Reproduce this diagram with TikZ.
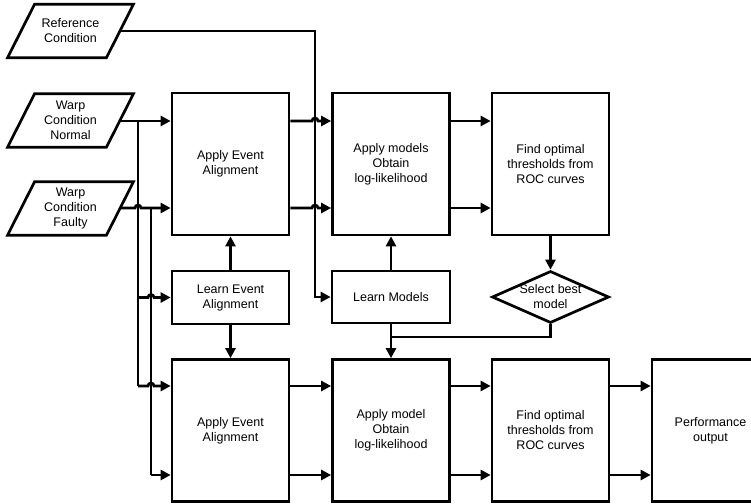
\documentclass[tikz,border=0pt]{standalone}
\usepackage{fontspec}
\setmainfont{Liberation Sans}
\usetikzlibrary{arrows.meta,shapes.geometric}
\tikzset{
  base/.style={line width=2.7pt, line join=miter},
  box/.style={base, draw, rectangle, align=center, inner sep=0pt, font=\fontsize{12.5}{15}\selectfont},
  tall/.style={box, minimum width=117pt, minimum height=142pt},
  short/.style={box, minimum width=117pt, minimum height=53pt},
  para/.style={align=center, inner sep=0pt, minimum width=98.5pt, minimum height=53pt, font=\fontsize{12.5}{15}\selectfont},
  lbl/.style={align=center, inner sep=0pt, font=\fontsize{12.5}{15}\selectfont},
  conn/.style={base, -{Triangle[length=10pt,width=10pt]}},
  line/.style={base}
}
\newcommand{\parashape}[1]{%
  \draw[base] ([xshift=-13.5pt]#1.south west) -- ([xshift=13.5pt]#1.north west)
    -- ([xshift=13.5pt]#1.north east) -- ([xshift=-13.5pt]#1.south east) -- cycle;}
\begin{document}
\begin{tikzpicture}[x=1pt,y=-1pt]
\useasboundingbox (0,0) rectangle (751,503);
% inputs
\node[para] (ref) at (70.5,31) {Reference\\Condition};
\node[para] (nor) at (70.5,120.5) {Warp\\Condition\\Normal};
\node[para] (fau) at (70.5,208.5) {Warp\\Condition\\Faulty};
\parashape{ref}\parashape{nor}\parashape{fau}
% boxes
\node[tall] (aea1) at (230.5,164) {Apply Event\\Alignment};
\node[tall] (am1) at (391,164) {Apply models\\Obtain\\log-likelihood};
\node[tall] (fo1) at (550.5,164) {Find optimal\\thresholds from\\ROC curves};
\node[short] (lea) at (230.5,297.5) {Learn Event\\Alignment};
\node[short, minimum width=118pt, minimum height=52pt] (lm) at (391,297) {Learn Models};
\node[base, draw, diamond, minimum width=117pt, minimum height=52pt, inner sep=0pt] (sel) at (550.5,297) {};
\node[lbl] (seltext) at (550.5,297) {Select best\\model};
\node[tall] (aea2) at (230.5,430.5) {Apply Event\\Alignment};
\node[tall] (am2) at (391,430.5) {Apply model\\Obtain\\log-likelihood};
\node[tall] (fo2) at (550.5,430.5) {Find optimal\\thresholds from\\ROC curves};
\node[tall] (perf) at (710.5,430.5) {Performance\\output};
% coordinates
\coordinate (jn) at (138,121);
\coordinate (jf) at (151,208);
\coordinate (jr) at (315,31);
% reference condition to learn models
\draw[conn] (ref.east |- jr) -- (jr) -- (jr |- lm.west) -- (lm.west);
% normal
\draw[conn] (nor.east |- jn) -- (aea1.west |- jn);
\draw[line] (jn) -- (138,386);
\draw[conn] (138,297.5) -- (148,297.5) arc[start angle=180,end angle=0,radius=3pt] -- (lea.west);
\draw[conn] (138,386) -- (148,386) arc[start angle=180,end angle=0,radius=3pt] -- (aea2.west |- 0,386);
% faulty
\draw[conn] (fau.east |- jf) -- (135,208) arc[start angle=180,end angle=0,radius=3pt] -- (aea1.west |- jf);
\draw[line] (jf) -- (151,475);
\draw[conn] (151,475) -- (aea2.west |- 0,475);
% top row
\draw[conn] (aea1.east |- jn) -- (312,121) arc[start angle=180,end angle=0,radius=3pt] -- (am1.west |- jn);
\draw[conn] (aea1.east |- jf) -- (312,208) arc[start angle=180,end angle=0,radius=3pt] -- (am1.west |- jf);
\draw[conn] (am1.east |- jn) -- (fo1.west |- jn);
\draw[conn] (am1.east |- jf) -- (fo1.west |- jf);
% learn boxes
\draw[conn] (lea.north) -- (aea1.south);
\draw[conn] (lea.south) -- (aea2.north);
\draw[conn] (lm.north) -- (am1.south);
\draw[conn] (lm.south) -- (am2.north);
\draw[conn] (fo1.south) -- (sel.north);
\draw[line] (sel.south) -- (550.5,337) -- (391,337);
% bottom row
\draw[conn] (aea2.east |- 0,386) -- (am2.west |- 0,386);
\draw[conn] (aea2.east |- 0,475) -- (am2.west |- 0,475);
\draw[conn] (am2.east |- 0,386) -- (fo2.west |- 0,386);
\draw[conn] (am2.east |- 0,475) -- (fo2.west |- 0,475);
\draw[conn] (fo2.east |- 0,386) -- (perf.west |- 0,386);
\draw[conn] (fo2.east |- 0,475) -- (perf.west |- 0,475);
\end{tikzpicture}
\end{document}
